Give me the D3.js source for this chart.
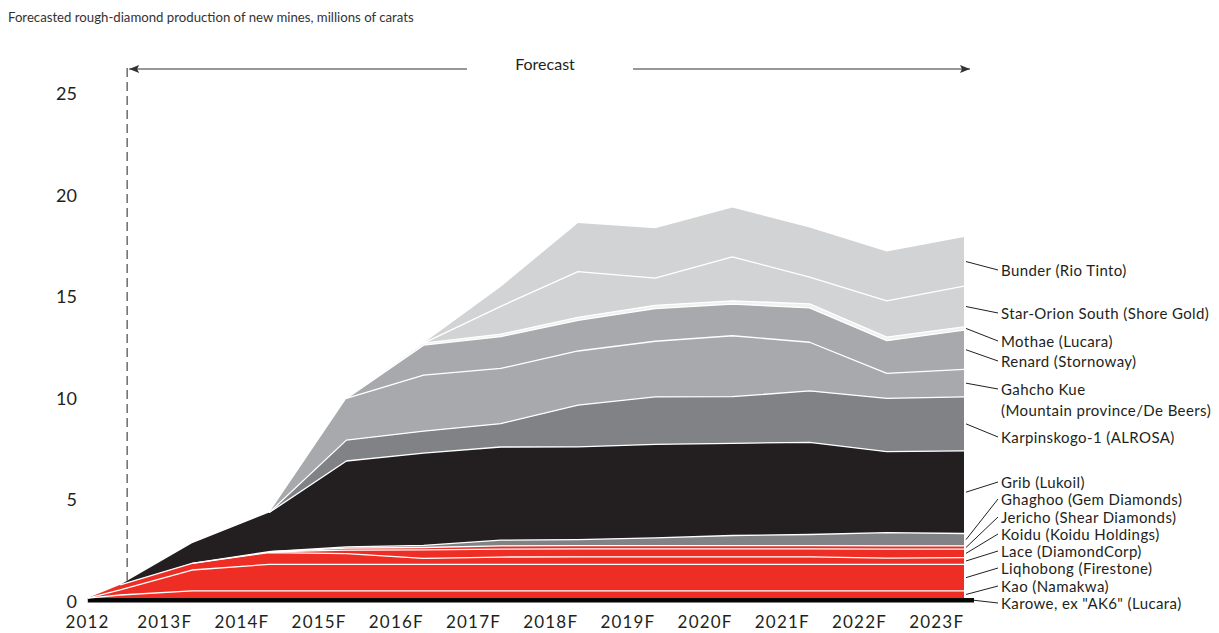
<!DOCTYPE html>
<html><head><meta charset="utf-8">
<script src="https://cdn.jsdelivr.net/npm/d3@7"></script>
<style>
body{margin:0;background:#fff}
svg{display:block}
text{font-family:Lato, "Open Sans", sans-serif; fill:#231f20}
</style>
</head><body>
<svg id="c" width="1219" height="633"></svg>
<script>
// ---- data ----
const title = "Forecasted rough-diamond production of new mines, millions of carats";
// time points of the stacked series (first = start of 2012 shape, second = 2012)
const periods = [2011.65, 2012.07, 2013, 2014, 2015, 2016, 2017, 2018, 2019, 2020, 2021, 2022, 2023];
const xTickYears  = [2012, 2013, 2014, 2015, 2016, 2017, 2018, 2019, 2020, 2021, 2022, 2023];
const xTickLabels = ["2012","2013F","2014F","2015F","2016F","2017F","2018F","2019F","2020F","2021F","2022F","2023F"];
const yTicks = [0, 5, 10, 15, 20, 25];
const forecastStart = 2012.16;

const karowe      = [0.22,0.22,0.22,0.22,0.22,0.22,0.22,0.22,0.22,0.22,0.22,0.22,0.22];
const kao         = [0,0.15,0.35,0.35,0.35,0.35,0.35,0.35,0.35,0.35,0.35,0.35,0.35];
const liqhobong   = [0,0.25,1.03,1.31,1.31,1.31,1.31,1.31,1.31,1.31,1.31,1.31,1.31];
const lace        = [0,0.25,0.33,0.58,0.53,0.29,0.36,0.37,0.37,0.37,0.37,0.31,0.33];
const koidu       = [0,0,0,0.04,0.17,0.42,0.39,0.39,0.39,0.39,0.39,0.44,0.42];
const jericho     = [0,0,0,0,0.10,0.12,0.16,0.16,0.16,0.16,0.16,0.16,0.16];
const ghaghoo     = [0,0,0,0,0.06,0.10,0.28,0.30,0.38,0.50,0.55,0.65,0.61];
const grib        = [0,0,0.99,1.93,4.23,4.55,4.59,4.57,4.61,4.54,4.54,3.99,4.07];
const karpinskogo = [0,0,0,0,1.03,1.08,1.15,2.05,2.34,2.30,2.53,2.63,2.66];
const gahchoKue   = [0,0,0,0,2.05,2.76,2.72,2.67,2.74,3.00,2.40,1.23,1.35];
const renard      = [0,0,0,0,0,1.48,1.57,1.51,1.61,1.56,1.69,1.61,1.94];
const mothae      = [0,0,0,0,0,0.10,0.12,0.15,0.16,0.16,0.20,0.17,0.16];
const starOrion   = [0,0,0,0,0,0,1.37,2.25,1.34,2.17,1.32,1.79,2.00];
const bunder      = [0,0,0,0,0,0,0.96,2.40,2.46,2.43,2.44,2.43,2.43];

const seriesKeys = ["karowe","kao","liqhobong","lace","koidu","jericho","ghaghoo","grib","karpinskogo","gahchoKue","renard","mothae","starOrion","bunder"];
const seriesValues = {karowe,kao,liqhobong,lace,koidu,jericho,ghaghoo,grib,karpinskogo,gahchoKue,renard,mothae,starOrion,bunder};
const seriesNames = {
  karowe: ['Karowe, ex "AK6" (Lucara)'],
  kao: ["Kao (Namakwa)"],
  liqhobong: ["Liqhobong (Firestone)"],
  lace: ["Lace (DiamondCorp)"],
  koidu: ["Koidu (Koidu Holdings)"],
  jericho: ["Jericho (Shear Diamonds)"],
  ghaghoo: ["Ghaghoo (Gem Diamonds)"],
  grib: ["Grib (Lukoil)"],
  karpinskogo: ["Karpinskogo-1 (ALROSA)"],
  gahchoKue: ["Gahcho Kue", "(Mountain province/De Beers)"],
  renard: ["Renard (Stornoway)"],
  mothae: ["Mothae (Lucara)"],
  starOrion: ["Star-Orion South (Shore Gold)"],
  bunder: ["Bunder (Rio Tinto)"]
};

// ---- style ----
const colors = {
  karowe:"#050505", kao:"#ee2e24", liqhobong:"#ee2e24", lace:"#ee2e24", koidu:"#ee2e24", jericho:"#ee2e24",
  ghaghoo:"#808285", grib:"#231f20", karpinskogo:"#808285", gahchoKue:"#a7a9ac", renard:"#a7a9ac",
  mothae:"#f1f1f2", starOrion:"#d1d3d4", bunder:"#d1d3d4"
};
// label vertical positions (layout)
const labelY = {bunder:270, starOrion:313, mothae:341, renard:361, gahchoKue:389, karpinskogo:437,
  grib:482, ghaghoo:499, jericho:517, koidu:534, lace:551, liqhobong:568, kao:586, karowe:603};

const svg = d3.select("#c");
const x = d3.scaleLinear().domain([2013, 2023]).range([192, 964]);
const y = d3.scaleLinear().domain([0, 25]).range([602.5, 95]);

const rows = periods.map((t, i) => {
  const r = {t};
  seriesKeys.forEach(k => r[k] = seriesValues[k][i]);
  return r;
});
const stacked = d3.stack().keys(seriesKeys)(rows);

// title
svg.append("text").attr("x", 8).attr("y", 17).attr("dominant-baseline","central")
  .style("font-size","13.2px").style("fill","#333").text(title);

// areas
const area = d3.area().x(d => x(d.data.t)).y0(d => y(d[0])).y1(d => y(d[1]));
const gA = svg.append("g");
stacked.forEach(s => {
  if (s.key === "karowe") {
    const last = periods[periods.length-1];
    gA.append("rect").attr("x", x(periods[0])).attr("width", x(last) + 10 - x(periods[0]))
      .attr("y", y(s[0][1])).attr("height", y(s[0][0]) - y(s[0][1])).attr("fill", colors.karowe);
  } else {
    gA.append("path").attr("d", area(s)).attr("fill", colors[s.key]);
  }
});
// white separators on the bottom edge of each layer (from liqhobong up)
const thick = d => d[1] - d[0] > 1e-9;
stacked.forEach((s, k) => {
  if (k < 2) return;
  const line = d3.line()
    .defined((d, i) => thick(d) || (s[i+1] && thick(s[i+1])) || (s[i-1] && thick(s[i-1])))
    .x(d => x(d.data.t)).y(d => y(d[0]));
  gA.append("path").attr("d", line(s)).attr("fill","none")
    .attr("stroke","#fff").attr("stroke-width",1.3).attr("stroke-linejoin","round");
});

// y axis
const yAxis = d3.axisLeft(y).tickValues(yTicks).tickSize(0).tickPadding(0);
const gy = svg.append("g").attr("transform","translate(77,-1)").call(yAxis);
gy.select(".domain").remove();
gy.selectAll("text").style("font-size","18px").style("font-family","Lato").attr("fill","#231f20");

// x axis (labels centred left of the data point)
const xAxis = d3.axisBottom(x).tickValues(xTickYears.map(v => v - 0.36))
  .tickFormat((d, i) => xTickLabels[i]).tickSize(0).tickPadding(0);
const gx = svg.append("g").attr("transform","translate(0,616)").call(xAxis);
gx.select(".domain").remove();
gx.selectAll("text").style("font-size","17px").style("letter-spacing","1.2px")
  .style("font-family","Lato").attr("fill","#231f20");

// forecast marker
const fx = x(forecastStart);
const stackTopP1 = d3.max(stacked, s => s[1][1]);
svg.append("line").attr("x1", fx).attr("x2", fx).attr("y1", y(25) - 27).attr("y2", y(stackTopP1) - 4)
  .attr("stroke","#555").attr("stroke-width",1.3).attr("stroke-dasharray","9,5");
const ay = y(25) - 26;
const arrowEnd = x(2023) + 6;
svg.append("line").attr("x1", fx + 2).attr("x2", 467).attr("y1", ay).attr("y2", ay).attr("stroke","#333").attr("stroke-width",1.2);
svg.append("line").attr("x1", 633).attr("x2", arrowEnd).attr("y1", ay).attr("y2", ay).attr("stroke","#333").attr("stroke-width",1.2);
svg.append("path").attr("d", `M${fx+2},${ay} l10,-4 l-2,4 l2,4 z`).attr("fill","#333");
svg.append("path").attr("d", `M${arrowEnd},${ay} l-10,-4 l2,4 l-2,4 z`).attr("fill","#333");
svg.append("text").attr("x", 545).attr("y", ay - 6).attr("text-anchor","middle").attr("dominant-baseline","central")
  .style("font-size","16px").text("Forecast");

// right labels with leaders
const gL = svg.append("g");
const lastI = periods.length - 1;
const lx = 1001;
stacked.forEach(s => {
  const d = s[lastI];
  const my = y((d[0] + d[1]) / 2);
  const ly = labelY[s.key];
  const sx = s.key === "karowe" ? x(periods[lastI]) + 10 : x(periods[lastI]) + 2;
  gL.append("line").attr("x1", sx).attr("y1", my).attr("x2", lx - 3).attr("y2", ly)
    .attr("stroke","#231f20").attr("stroke-width",1);
  seriesNames[s.key].forEach((t, j) => {
    gL.append("text").attr("x", lx).attr("y", ly + j * 21).attr("dominant-baseline","central")
      .style("font-size","15px").style("letter-spacing","0.4px").text(t);
  });
});
</script>
</body></html>
